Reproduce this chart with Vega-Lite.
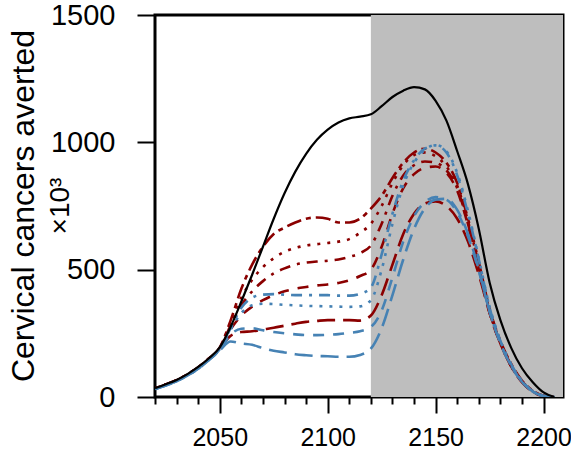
{
  "$schema": "https://vega.github.io/schema/vega-lite/v6.json",
  "width": 408,
  "height": 382,
  "autosize": {"type": "none"},
  "padding": {"left": 155, "top": 15, "right": 8, "bottom": 59},
  "config": {
    "view": {"stroke": "black", "strokeWidth": 3},
    "font": "Liberation Sans",
    "title": {"subtitleFontSize": 28}
  },
  "title": {
    "text": "Cervical cancers averted",
    "subtitle": "×10³",
    "orient": "left",
    "anchor": "middle",
    "fontSize": 32,
    "fontWeight": "normal",
    "font": "Liberation Sans",
    "color": "black",
    "subtitleFontSize": 28,
    "subtitleFont": "Liberation Sans",
    "subtitleColor": "black",
    "subtitlePadding": 6,
    "offset": -26
  },
  "datasets": {
    "shade": [{"x": 2120, "xe": 2209}],
    "lines": [
      {"s":"total","x":2020,"y":35},{"s":"total","x":2025,"y":50},{"s":"total","x":2030,"y":67},{"s":"total","x":2035,"y":90},{"s":"total","x":2040,"y":118},{"s":"total","x":2045,"y":152},{"s":"total","x":2050,"y":195},{"s":"total","x":2055,"y":275},{"s":"total","x":2060,"y":375},{"s":"total","x":2065,"y":480},{"s":"total","x":2070,"y":590},{"s":"total","x":2075,"y":700},{"s":"total","x":2080,"y":800},{"s":"total","x":2085,"y":885},{"s":"total","x":2090,"y":955},{"s":"total","x":2095,"y":1010},{"s":"total","x":2100,"y":1050},{"s":"total","x":2105,"y":1078},{"s":"total","x":2110,"y":1094},{"s":"total","x":2115,"y":1101},{"s":"total","x":2120,"y":1110},{"s":"total","x":2125,"y":1142},{"s":"total","x":2130,"y":1178},{"s":"total","x":2135,"y":1203},{"s":"total","x":2140,"y":1217},{"s":"total","x":2145,"y":1208},{"s":"total","x":2150,"y":1163},{"s":"total","x":2155,"y":1085},{"s":"total","x":2160,"y":965},{"s":"total","x":2165,"y":835},{"s":"total","x":2170,"y":660},{"s":"total","x":2175,"y":450},{"s":"total","x":2180,"y":302},{"s":"total","x":2185,"y":193},{"s":"total","x":2190,"y":113},{"s":"total","x":2195,"y":58},{"s":"total","x":2200,"y":18},{"s":"total","x":2205,"y":0},

      {"s":"redA","x":2020,"y":34},{"s":"redA","x":2025,"y":49},{"s":"redA","x":2030,"y":66},{"s":"redA","x":2035,"y":89},{"s":"redA","x":2040,"y":117},{"s":"redA","x":2045,"y":152},{"s":"redA","x":2050,"y":195},{"s":"redA","x":2055,"y":300},{"s":"redA","x":2060,"y":425},{"s":"redA","x":2065,"y":520},{"s":"redA","x":2070,"y":590},{"s":"redA","x":2075,"y":640},{"s":"redA","x":2080,"y":665},{"s":"redA","x":2085,"y":685},{"s":"redA","x":2090,"y":700},{"s":"redA","x":2095,"y":705},{"s":"redA","x":2100,"y":700},{"s":"redA","x":2105,"y":685},{"s":"redA","x":2110,"y":685},{"s":"redA","x":2115,"y":700},{"s":"redA","x":2120,"y":740},{"s":"redA","x":2125,"y":790},{"s":"redA","x":2130,"y":860},{"s":"redA","x":2135,"y":920},{"s":"redA","x":2140,"y":960},{"s":"redA","x":2145,"y":975},{"s":"redA","x":2150,"y":960},{"s":"redA","x":2155,"y":920},{"s":"redA","x":2160,"y":840},{"s":"redA","x":2165,"y":700},{"s":"redA","x":2170,"y":530},{"s":"redA","x":2175,"y":345},{"s":"redA","x":2180,"y":220},{"s":"redA","x":2185,"y":130},{"s":"redA","x":2190,"y":65},{"s":"redA","x":2195,"y":25},{"s":"redA","x":2200,"y":5},{"s":"redA","x":2205,"y":0},

      {"s":"redB","x":2020,"y":34},{"s":"redB","x":2025,"y":49},{"s":"redB","x":2030,"y":66},{"s":"redB","x":2035,"y":89},{"s":"redB","x":2040,"y":117},{"s":"redB","x":2045,"y":151},{"s":"redB","x":2050,"y":193},{"s":"redB","x":2055,"y":290},{"s":"redB","x":2060,"y":390},{"s":"redB","x":2065,"y":460},{"s":"redB","x":2070,"y":510},{"s":"redB","x":2075,"y":545},{"s":"redB","x":2080,"y":570},{"s":"redB","x":2085,"y":585},{"s":"redB","x":2090,"y":595},{"s":"redB","x":2095,"y":600},{"s":"redB","x":2100,"y":605},{"s":"redB","x":2105,"y":610},{"s":"redB","x":2110,"y":620},{"s":"redB","x":2115,"y":645},{"s":"redB","x":2120,"y":680},{"s":"redB","x":2125,"y":750},{"s":"redB","x":2130,"y":840},{"s":"redB","x":2135,"y":910},{"s":"redB","x":2140,"y":950},{"s":"redB","x":2145,"y":960},{"s":"redB","x":2150,"y":945},{"s":"redB","x":2155,"y":905},{"s":"redB","x":2160,"y":830},{"s":"redB","x":2165,"y":690},{"s":"redB","x":2170,"y":520},{"s":"redB","x":2175,"y":340},{"s":"redB","x":2180,"y":215},{"s":"redB","x":2185,"y":125},{"s":"redB","x":2190,"y":62},{"s":"redB","x":2195,"y":23},{"s":"redB","x":2200,"y":5},{"s":"redB","x":2205,"y":0},

      {"s":"redC","x":2020,"y":34},{"s":"redC","x":2025,"y":49},{"s":"redC","x":2030,"y":66},{"s":"redC","x":2035,"y":88},{"s":"redC","x":2040,"y":116},{"s":"redC","x":2045,"y":150},{"s":"redC","x":2050,"y":192},{"s":"redC","x":2055,"y":280},{"s":"redC","x":2060,"y":360},{"s":"redC","x":2065,"y":415},{"s":"redC","x":2070,"y":455},{"s":"redC","x":2075,"y":485},{"s":"redC","x":2080,"y":505},{"s":"redC","x":2085,"y":520},{"s":"redC","x":2090,"y":528},{"s":"redC","x":2095,"y":532},{"s":"redC","x":2100,"y":535},{"s":"redC","x":2105,"y":540},{"s":"redC","x":2110,"y":550},{"s":"redC","x":2115,"y":565},{"s":"redC","x":2120,"y":595},{"s":"redC","x":2125,"y":680},{"s":"redC","x":2130,"y":790},{"s":"redC","x":2135,"y":870},{"s":"redC","x":2140,"y":910},{"s":"redC","x":2145,"y":925},{"s":"redC","x":2150,"y":920},{"s":"redC","x":2155,"y":890},{"s":"redC","x":2160,"y":820},{"s":"redC","x":2165,"y":680},{"s":"redC","x":2170,"y":515},{"s":"redC","x":2175,"y":335},{"s":"redC","x":2180,"y":212},{"s":"redC","x":2185,"y":123},{"s":"redC","x":2190,"y":60},{"s":"redC","x":2195,"y":22},{"s":"redC","x":2200,"y":4},{"s":"redC","x":2205,"y":0},

      {"s":"redD","x":2020,"y":33},{"s":"redD","x":2025,"y":48},{"s":"redD","x":2030,"y":65},{"s":"redD","x":2035,"y":88},{"s":"redD","x":2040,"y":115},{"s":"redD","x":2045,"y":150},{"s":"redD","x":2050,"y":190},{"s":"redD","x":2055,"y":265},{"s":"redD","x":2060,"y":320},{"s":"redD","x":2065,"y":355},{"s":"redD","x":2070,"y":380},{"s":"redD","x":2075,"y":400},{"s":"redD","x":2080,"y":415},{"s":"redD","x":2085,"y":425},{"s":"redD","x":2090,"y":432},{"s":"redD","x":2095,"y":438},{"s":"redD","x":2100,"y":442},{"s":"redD","x":2105,"y":448},{"s":"redD","x":2110,"y":458},{"s":"redD","x":2115,"y":475},{"s":"redD","x":2120,"y":500},{"s":"redD","x":2125,"y":590},{"s":"redD","x":2130,"y":720},{"s":"redD","x":2135,"y":820},{"s":"redD","x":2140,"y":875},{"s":"redD","x":2145,"y":900},{"s":"redD","x":2150,"y":905},{"s":"redD","x":2155,"y":880},{"s":"redD","x":2160,"y":810},{"s":"redD","x":2165,"y":675},{"s":"redD","x":2170,"y":510},{"s":"redD","x":2175,"y":330},{"s":"redD","x":2180,"y":210},{"s":"redD","x":2185,"y":120},{"s":"redD","x":2190,"y":60},{"s":"redD","x":2195,"y":22},{"s":"redD","x":2200,"y":4},{"s":"redD","x":2205,"y":0},

      {"s":"redE","x":2020,"y":33},{"s":"redE","x":2025,"y":48},{"s":"redE","x":2030,"y":65},{"s":"redE","x":2035,"y":87},{"s":"redE","x":2040,"y":114},{"s":"redE","x":2045,"y":149},{"s":"redE","x":2050,"y":190},{"s":"redE","x":2055,"y":240},{"s":"redE","x":2060,"y":255},{"s":"redE","x":2065,"y":258},{"s":"redE","x":2070,"y":265},{"s":"redE","x":2075,"y":272},{"s":"redE","x":2080,"y":280},{"s":"redE","x":2085,"y":288},{"s":"redE","x":2090,"y":295},{"s":"redE","x":2095,"y":299},{"s":"redE","x":2100,"y":302},{"s":"redE","x":2105,"y":302},{"s":"redE","x":2110,"y":302},{"s":"redE","x":2115,"y":300},{"s":"redE","x":2120,"y":320},{"s":"redE","x":2125,"y":400},{"s":"redE","x":2130,"y":520},{"s":"redE","x":2135,"y":640},{"s":"redE","x":2140,"y":720},{"s":"redE","x":2145,"y":760},{"s":"redE","x":2150,"y":768},{"s":"redE","x":2155,"y":750},{"s":"redE","x":2160,"y":700},{"s":"redE","x":2165,"y":610},{"s":"redE","x":2170,"y":480},{"s":"redE","x":2175,"y":330},{"s":"redE","x":2180,"y":210},{"s":"redE","x":2185,"y":120},{"s":"redE","x":2190,"y":58},{"s":"redE","x":2195,"y":20},{"s":"redE","x":2200,"y":4},{"s":"redE","x":2205,"y":0},

      {"s":"blueA","x":2020,"y":32},{"s":"blueA","x":2025,"y":46},{"s":"blueA","x":2030,"y":63},{"s":"blueA","x":2035,"y":85},{"s":"blueA","x":2040,"y":112},{"s":"blueA","x":2045,"y":147},{"s":"blueA","x":2050,"y":188},{"s":"blueA","x":2055,"y":270},{"s":"blueA","x":2060,"y":350},{"s":"blueA","x":2065,"y":390},{"s":"blueA","x":2070,"y":402},{"s":"blueA","x":2075,"y":404},{"s":"blueA","x":2080,"y":402},{"s":"blueA","x":2085,"y":400},{"s":"blueA","x":2090,"y":400},{"s":"blueA","x":2095,"y":400},{"s":"blueA","x":2100,"y":400},{"s":"blueA","x":2105,"y":398},{"s":"blueA","x":2110,"y":398},{"s":"blueA","x":2115,"y":405},{"s":"blueA","x":2120,"y":430},{"s":"blueA","x":2125,"y":560},{"s":"blueA","x":2130,"y":720},{"s":"blueA","x":2135,"y":850},{"s":"blueA","x":2140,"y":930},{"s":"blueA","x":2145,"y":975},{"s":"blueA","x":2150,"y":988},{"s":"blueA","x":2155,"y":960},{"s":"blueA","x":2160,"y":870},{"s":"blueA","x":2165,"y":720},{"s":"blueA","x":2170,"y":540},{"s":"blueA","x":2175,"y":350},{"s":"blueA","x":2180,"y":220},{"s":"blueA","x":2185,"y":128},{"s":"blueA","x":2190,"y":63},{"s":"blueA","x":2195,"y":23},{"s":"blueA","x":2200,"y":5},{"s":"blueA","x":2205,"y":0},

      {"s":"blueB","x":2020,"y":32},{"s":"blueB","x":2025,"y":46},{"s":"blueB","x":2030,"y":63},{"s":"blueB","x":2035,"y":85},{"s":"blueB","x":2040,"y":112},{"s":"blueB","x":2045,"y":147},{"s":"blueB","x":2050,"y":188},{"s":"blueB","x":2055,"y":265},{"s":"blueB","x":2060,"y":330},{"s":"blueB","x":2065,"y":360},{"s":"blueB","x":2070,"y":366},{"s":"blueB","x":2075,"y":365},{"s":"blueB","x":2080,"y":362},{"s":"blueB","x":2085,"y":360},{"s":"blueB","x":2090,"y":358},{"s":"blueB","x":2095,"y":357},{"s":"blueB","x":2100,"y":356},{"s":"blueB","x":2105,"y":355},{"s":"blueB","x":2110,"y":354},{"s":"blueB","x":2115,"y":356},{"s":"blueB","x":2120,"y":380},{"s":"blueB","x":2125,"y":500},{"s":"blueB","x":2130,"y":680},{"s":"blueB","x":2135,"y":830},{"s":"blueB","x":2140,"y":920},{"s":"blueB","x":2145,"y":970},{"s":"blueB","x":2150,"y":990},{"s":"blueB","x":2155,"y":965},{"s":"blueB","x":2160,"y":880},{"s":"blueB","x":2165,"y":730},{"s":"blueB","x":2170,"y":545},{"s":"blueB","x":2175,"y":355},{"s":"blueB","x":2180,"y":222},{"s":"blueB","x":2185,"y":128},{"s":"blueB","x":2190,"y":63},{"s":"blueB","x":2195,"y":23},{"s":"blueB","x":2200,"y":5},{"s":"blueB","x":2205,"y":0},

      {"s":"blueC","x":2020,"y":32},{"s":"blueC","x":2025,"y":46},{"s":"blueC","x":2030,"y":62},{"s":"blueC","x":2035,"y":84},{"s":"blueC","x":2040,"y":111},{"s":"blueC","x":2045,"y":146},{"s":"blueC","x":2050,"y":185},{"s":"blueC","x":2055,"y":245},{"s":"blueC","x":2060,"y":268},{"s":"blueC","x":2065,"y":270},{"s":"blueC","x":2070,"y":262},{"s":"blueC","x":2075,"y":255},{"s":"blueC","x":2080,"y":250},{"s":"blueC","x":2085,"y":246},{"s":"blueC","x":2090,"y":243},{"s":"blueC","x":2095,"y":243},{"s":"blueC","x":2100,"y":244},{"s":"blueC","x":2105,"y":247},{"s":"blueC","x":2110,"y":252},{"s":"blueC","x":2115,"y":258},{"s":"blueC","x":2120,"y":275},{"s":"blueC","x":2125,"y":340},{"s":"blueC","x":2130,"y":470},{"s":"blueC","x":2135,"y":610},{"s":"blueC","x":2140,"y":710},{"s":"blueC","x":2145,"y":765},{"s":"blueC","x":2150,"y":785},{"s":"blueC","x":2155,"y":775},{"s":"blueC","x":2160,"y":725},{"s":"blueC","x":2165,"y":630},{"s":"blueC","x":2170,"y":495},{"s":"blueC","x":2175,"y":335},{"s":"blueC","x":2180,"y":212},{"s":"blueC","x":2185,"y":122},{"s":"blueC","x":2190,"y":60},{"s":"blueC","x":2195,"y":21},{"s":"blueC","x":2200,"y":4},{"s":"blueC","x":2205,"y":0},

      {"s":"blueD","x":2020,"y":31},{"s":"blueD","x":2025,"y":45},{"s":"blueD","x":2030,"y":62},{"s":"blueD","x":2035,"y":84},{"s":"blueD","x":2040,"y":110},{"s":"blueD","x":2045,"y":145},{"s":"blueD","x":2050,"y":183},{"s":"blueD","x":2055,"y":218},{"s":"blueD","x":2060,"y":210},{"s":"blueD","x":2065,"y":205},{"s":"blueD","x":2070,"y":192},{"s":"blueD","x":2075,"y":182},{"s":"blueD","x":2080,"y":175},{"s":"blueD","x":2085,"y":168},{"s":"blueD","x":2090,"y":164},{"s":"blueD","x":2095,"y":161},{"s":"blueD","x":2100,"y":160},{"s":"blueD","x":2105,"y":158},{"s":"blueD","x":2110,"y":158},{"s":"blueD","x":2115,"y":165},{"s":"blueD","x":2120,"y":190},{"s":"blueD","x":2125,"y":270},{"s":"blueD","x":2130,"y":400},{"s":"blueD","x":2135,"y":540},{"s":"blueD","x":2140,"y":660},{"s":"blueD","x":2145,"y":740},{"s":"blueD","x":2150,"y":775},{"s":"blueD","x":2155,"y":778},{"s":"blueD","x":2160,"y":735},{"s":"blueD","x":2165,"y":640},{"s":"blueD","x":2170,"y":500},{"s":"blueD","x":2175,"y":335},{"s":"blueD","x":2180,"y":212},{"s":"blueD","x":2185,"y":122},{"s":"blueD","x":2190,"y":60},{"s":"blueD","x":2195,"y":21},{"s":"blueD","x":2200,"y":4},{"s":"blueD","x":2205,"y":0}
    ]
  },
  "encoding": {
    "x": {"field": "x", "type": "quantitative",
          "scale": {"domain": [2020, 2209], "nice": false, "zero": false},
          "axis": {"values": [2020,2030,2040,2050,2060,2070,2080,2090,2100,2110,2120,2130,2140,2150,2160,2170,2180,2190,2200],
                   "format": "d", "labelExpr": "datum.value % 50 === 0 ? datum.label : ''",
                   "labelOverlap": false, "labelFlush": false, "labelBound": false,
                   "title": null, "domain": false, "grid": false, "tickColor": "black", "tickWidth": 2,
                   "tickSize": {"condition": {"test": "datum.value % 50 === 0", "value": 16}, "value": 7},
                   "labelFontSize": 25, "labelColor": "black", "labelPadding": 12, "labelFont": "Liberation Sans"}}
  },
  "layer": [
    {
      "data": {"name": "shade"},
      "mark": {"type": "rect", "color": "#BEBEBE"},
      "encoding": {"x2": {"field": "xe"}}
    },
    {
      "data": {"name": "lines"},
      "transform": [{"filter": "datum.s !== 'total'"}],
      "mark": {"type": "line", "strokeWidth": 2.6, "interpolate": "monotone", "clip": true},
      "encoding": {
        "y": {"field": "y", "type": "quantitative",
              "scale": {"domain": [0, 1500], "nice": false},
              "axis": {"values": [0, 500, 1000, 1500], "format": "d", "title": null,
                       "labelOverlap": false, "domain": false, "grid": false, "tickColor": "black", "tickWidth": 2, "tickSize": 18,
                       "labelFontSize": 29, "labelColor": "black", "labelPadding": 22, "labelFont": "Liberation Sans"}},
        "detail": {"field": "s"},
        "color": {"field": "s", "type": "nominal", "legend": null,
                  "scale": {"domain": ["redA","redB","redC","redD","redE","blueA","blueB","blueC","blueD"],
                            "range": ["#8B0000","#8B0000","#8B0000","#8B0000","#8B0000","#4682B4","#4682B4","#4682B4","#4682B4"]}},
        "strokeDash": {"field": "s", "type": "nominal", "legend": null,
                  "scale": {"domain": ["redA","redB","redC","redD","redE","blueA","blueB","blueC","blueD"],
                            "range": [[5,5,15,5],[3,7],[3,7,11,7],[11,9],[18,8],[3,7,11,7],[3,7],[11,9],[18,8]]}}
      }
    },
    {
      "data": {"name": "lines"},
      "transform": [{"filter": "datum.s === 'total'"}],
      "mark": {"type": "line", "strokeWidth": 2.2, "color": "black", "interpolate": "monotone"},
      "encoding": {
        "y": {"field": "y", "type": "quantitative",
              "axis": {"values": [0, 500, 1000, 1500], "format": "d", "title": null,
                       "labelOverlap": false, "domain": false, "grid": false, "tickColor": "black", "tickWidth": 2, "tickSize": 18,
                       "labelFontSize": 29, "labelColor": "black", "labelPadding": 22, "labelFont": "Liberation Sans"}}
      }
    }
  ]
}
